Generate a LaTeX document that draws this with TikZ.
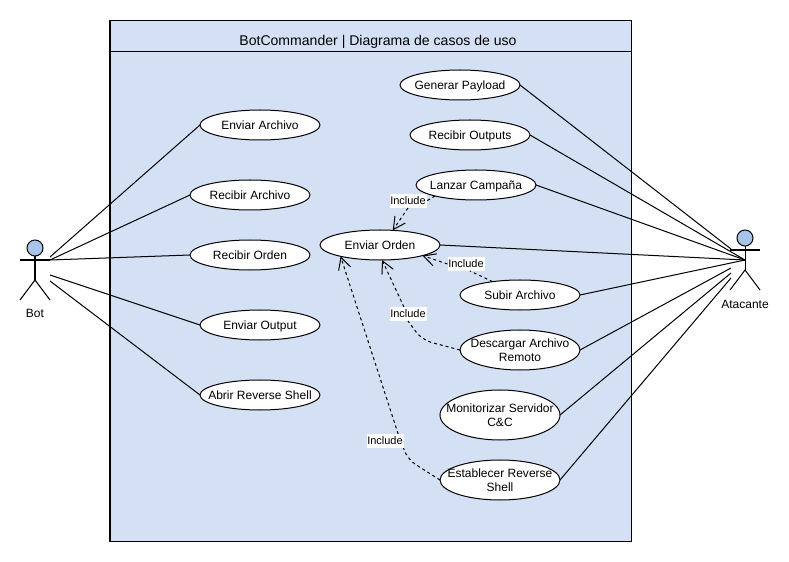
\documentclass[tikz,border=0pt]{standalone}
\usepackage{fontspec}
\setmainfont{Liberation Sans}
\usetikzlibrary{arrows.meta,shapes.geometric}
\definecolor{frameblue}{HTML}{D4E1F5}
\definecolor{headblue}{HTML}{A9C4EB}
\newcommand{\uc}[1]{\makebox[0pt]{\raisebox{-2.9pt}[0pt][0pt]{\begin{tabular}{@{}c@{}}#1\end{tabular}}}}

\begin{document}
\begin{tikzpicture}[font=\fontsize{6.83}{8}\selectfont,line width=.57pt]
\tikzset{
  usecase/.style={draw,ellipse,fill=white,inner sep=0pt,outer sep=0pt,minimum width=2.4cm,minimum height=.6cm},
  assoc/.style={draw,line width=.57pt},
  include/.style={draw,line width=.57pt,dash pattern=on 1.7pt off 1.7pt,rounded corners=.2cm,
    -{Straight Barb[length=.24cm,width=.25cm]}},
  inclabel/.style={fill=white,inner sep=0pt,outer sep=0pt,minimum width=.74cm,minimum height=.28cm,
    font=\fontsize{6.26}{7.5}\selectfont}
}
\useasboundingbox (0,0) rectangle (15.78,11.22);
\fill[white] (0,0) rectangle (15.78,11.22);

% frame
\draw[fill=frameblue] (2.2,.4) rectangle (12.62,10.8);
\draw (2.2,10.18)--(12.62,10.18);
\node[font=\fontsize{8}{9.6}\selectfont] (title) at (7.56,10.38) {BotCommander | Diagrama de casos de uso};

% actors
\foreach \ax/\ay/\id in {.7/6.02/bot,14.9/6.22/atk}{
  \begin{scope}[shift={(\ax,\ay)}]
    \draw[fill=headblue] (0,.24) circle (.16);
    \draw (-.3,0)--(.3,0);
    \draw (0,.08)--(0,-.4);
    \draw (-.3,-.8)--(0,-.4)--(.3,-.8);
  \end{scope}
}
\node (botname) at (.7,4.96) {Bot};
\node (atkname) at (14.9,5.14) {Atacante};
\coordinate (botA) at (1.0,6.08);
\coordinate (botB) at (1.0,6.02);
\coordinate (botC) at (1.0,5.72);
\coordinate (botD) at (1.0,5.6);
\coordinate (atkA) at (14.62,6.24);
\coordinate (atkB) at (14.9,6.02);
\coordinate (atkC) at (14.62,5.86);
\coordinate (atkD) at (14.62,5.76);
\coordinate (atkE) at (14.62,5.66);

% bot side
\node[usecase] (enviarArchivo) at (5.2,8.72) {\uc{Enviar Archivo}};
\node[usecase] (recibirArchivo) at (5.0,7.32) {\uc{Recibir Archivo}};
\node[usecase] (recibirOrden) at (5.0,6.12) {\uc{Recibir Orden}};
\node[usecase] (enviarOutput) at (5.2,4.72) {\uc{Enviar Output}};
\node[usecase] (abrirShell) at (5.2,3.32) {\uc{Abrir Reverse Shell}};

% attacker side
\node[usecase] (generarPayload) at (9.2,9.52) {\uc{Generar Payload}};
\node[usecase] (recibirOutputs) at (9.4,8.52) {\uc{Recibir Outputs}};
\node[usecase] (lanzarCampana) at (9.52,7.52) {\uc{Lanzar Campaña}};
\node[usecase] (enviarOrden) at (7.6,6.32) {\uc{Enviar Orden}};
\node[usecase] (subirArchivo) at (10.4,5.32) {\uc{Subir Archivo}};
\node[usecase,minimum height=.8cm] (descargarArchivo) at (10.4,4.22) {\uc{Descargar Archivo\\Remoto}};
\node[usecase,minimum height=1cm] (monitorizar) at (10.0,2.92) {\uc{Monitorizar Servidor\\C\&C}};
\node[usecase,minimum height=.8cm] (establecerShell) at (10.0,1.62) {\uc{Establecer Reverse\\Shell}};

\draw[assoc] (botA)--(enviarArchivo.west);
\draw[assoc] (botB)--(recibirArchivo.west);
\draw[assoc] (botB)--(recibirOrden.west);
\draw[assoc] (botC)--(enviarOutput.west);
\draw[assoc] (botD)--(abrirShell.west);

\draw[assoc] (generarPayload.east)--(atkA);
\draw[assoc] (recibirOutputs.east)--(atkB);
\draw[assoc] (lanzarCampana.east)--(atkB);
\draw[assoc] (enviarOrden.east)--(atkB);
\draw[assoc] (subirArchivo.east)--(atkB);
\draw[assoc] (descargarArchivo.east)--(atkC);
\draw[assoc] (monitorizar.east)--(atkD);
\draw[assoc] (establecerShell.east)--(atkE);

% include labels and their connectors
\node[inclabel] (incLanzar) at (8.16,7.2) {Include};
\node[inclabel] (incSubir) at (9.32,5.94) {Include};
\node[inclabel] (incDescargar) at (8.16,4.94) {Include};
\node[inclabel] (incEstablecer) at (7.7,2.4) {Include};
\coordinate (bendDescargar) at (8.44,4.42);
\coordinate (bendEstablecer) at (8.14,2.04);

\draw[include] (lanzarCampana.195)--(incLanzar.east) (incLanzar.south)--(enviarOrden.49);
\draw[include] (subirArchivo.154)--(incSubir.300) (incSubir.west)--(enviarOrden.346);
\draw[include] (descargarArchivo.west)--(bendDescargar)--(incDescargar.south) (incDescargar.120)--(enviarOrden.278);
\draw[include] (establecerShell.west)--(bendEstablecer)--(incEstablecer.south east) (incEstablecer.28)--(enviarOrden.196);
\end{tikzpicture}
\end{document}
